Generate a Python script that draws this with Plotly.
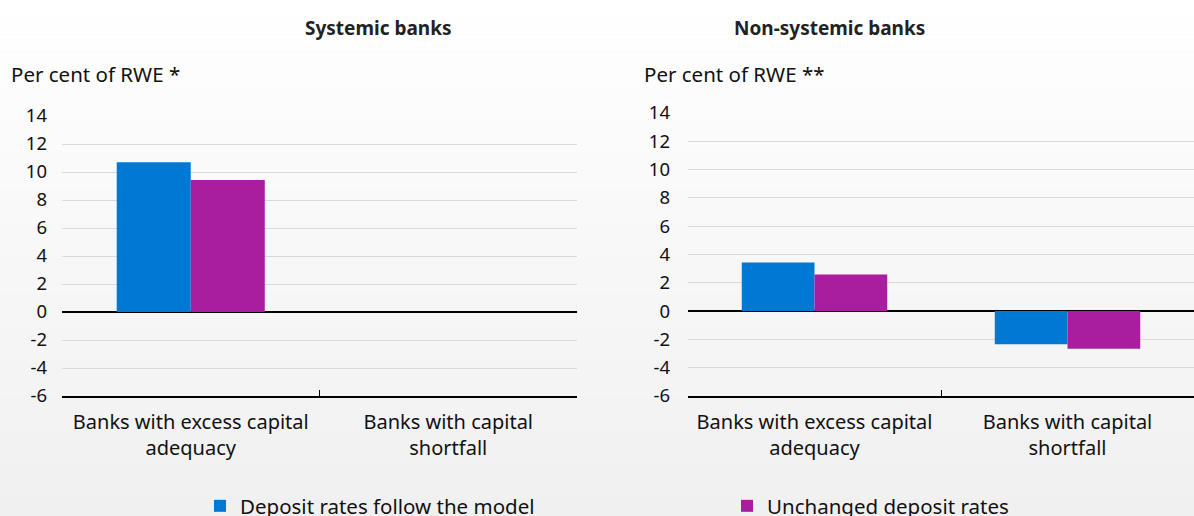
import plotly.graph_objects as go

categories = ["Banks with excess capital<br>adequacy", "Banks with capital<br>shortfall"]
series_names = ["Deposit rates follow the model", "Unchanged deposit rates"]
series_colors = ["#0079D4", "#A91E9F"]

# Systemic banks: no banks with capital shortfall
systemic_model = [10.7, None]
systemic_unchanged = [9.43, None]

# Non-systemic banks
nonsystemic_model = [3.44, -2.35]
nonsystemic_unchanged = [2.59, -2.66]

y_ticks = [14, 12, 10, 8, 6, 4, 2, 0, -2, -4, -6]
y_tick_text = ["14", "12", "10", "8", "6", "4", "2", "0", "-2", "-4", "-6"]

W, H = 1194, 516
FONT = "Noto Sans"
TXT = "#111111"

fig = go.Figure()

panels = [
    ("x", "y", [systemic_model, systemic_unchanged], True),
    ("x2", "y2", [nonsystemic_model, nonsystemic_unchanged], False),
]
for xa, ya, values, show in panels:
    for k, (name, color, vals) in enumerate(zip(series_names, series_colors, values)):
        fig.add_trace(go.Bar(
            x=categories, y=vals, name=name, marker=dict(color=color, line=dict(width=0)),
            xaxis=xa, yaxis=ya, showlegend=show, legendgroup=name,
            legend="legend" if k == 0 else "legend2",
        ))

# soft vertical background gradient
bands = 60
shapes = []
for i in range(bands):
    t = i / (bands - 1)
    g = round(255 - t * 15)
    shapes.append(dict(
        type="rect", xref="paper", yref="paper", x0=0, x1=1,
        y0=1 - (i + 1) / bands, y1=1 - i / bands,
        fillcolor=f"rgb({g},{g},{g})", line=dict(width=0), layer="below",
    ))

xaxis_style = dict(
    type="category", showgrid=False, showline=True, linecolor="#000000", linewidth=1.5,
    ticks="inside", tickson="boundaries", ticklen=6, tickcolor="#000000", tickwidth=1,
    tickfont=dict(family=FONT, size=20, color=TXT), fixedrange=True,
    ticklabelstandoff=7,
)
yaxis_style = dict(
    range=[-6, 14], tickvals=y_ticks, ticktext=y_tick_text,
    showgrid=True, gridcolor="#d9d9d9", gridwidth=1.3,
    zeroline=True, zerolinecolor="#000000", zerolinewidth=1.5, showline=False,
    tickfont=dict(family=FONT, size=18.5, color=TXT), ticks="", fixedrange=True,
)

legend_style = dict(
    orientation="h", xanchor="left", y=1 - 506 / H, yanchor="middle",
    font=dict(family=FONT, size=20.5, color=TXT), bgcolor="rgba(0,0,0,0)",
    itemwidth=30, borderwidth=0,
)

fig.update_layout(
    width=W, height=H,
    margin=dict(l=0, r=0, t=0, b=0, autoexpand=False),
    paper_bgcolor="#f4f4f4", plot_bgcolor="rgba(0,0,0,0)",
    barmode="group", bargap=0.425, bargroupgap=0,
    font=dict(family=FONT, color=TXT),
    shapes=shapes,
    xaxis=dict(xaxis_style, domain=[62 / W, 577 / W], anchor="y"),
    yaxis=dict(yaxis_style, domain=[1 - 396 / H, 1 - 116 / H], anchor="x", ticklabelstandoff=14),
    xaxis2=dict(xaxis_style, domain=[688 / W, 1.0], anchor="y2"),
    yaxis2=dict(yaxis_style, domain=[1 - 396 / H, 1 - 113 / H], anchor="x2", ticklabelstandoff=17),
    legend=dict(legend_style, x=200 / W),
    legend2=dict(legend_style, x=727 / W),
    annotations=[
        dict(text="<b>Systemic banks</b>", x=303 / W, y=1 - 28 / H, xref="paper", yref="paper",
             yanchor="middle", showarrow=False, font=dict(family=FONT, size=19, color="#222222")),
        dict(text="<b>Non-systemic banks</b>", x=927 / W, y=1 - 28 / H, xref="paper", yref="paper",
             yanchor="middle", showarrow=False, font=dict(family=FONT, size=19, color="#222222")),
        dict(text="Per cent of RWE *", x=9 / W, y=1 - 74 / H, xref="paper", yref="paper",
             xanchor="left", yanchor="middle", showarrow=False,
             font=dict(family=FONT, size=20.5, color=TXT)),
        dict(text="Per cent of RWE **", x=642 / W, y=1 - 74 / H, xref="paper", yref="paper",
             xanchor="left", yanchor="middle", showarrow=False,
             font=dict(family=FONT, size=20.5, color=TXT)),
    ],
)

fig.write_html("out.html")
